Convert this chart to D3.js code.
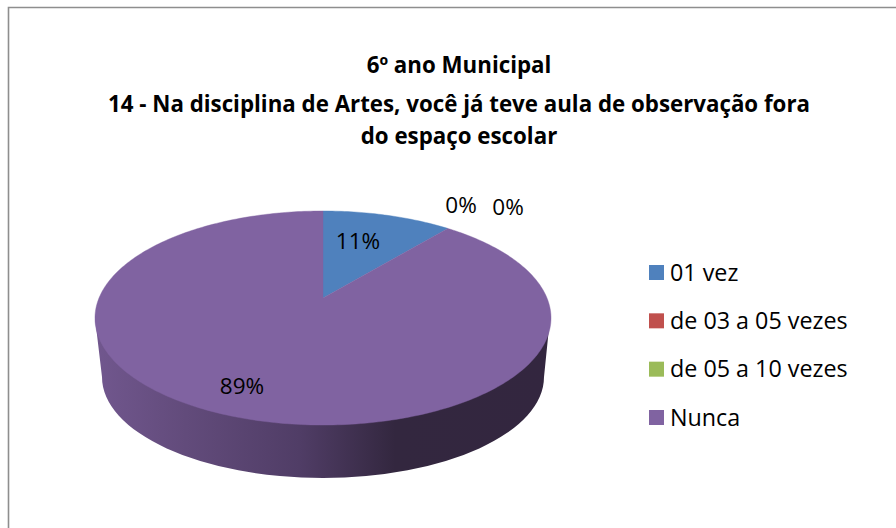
<!DOCTYPE html>
<html><head><meta charset="utf-8">
<script src="https://cdn.jsdelivr.net/npm/d3@7"></script>
<style>html,body{margin:0;padding:0;background:#fff}svg{display:block}text{font-family:"Open Sans","Noto Sans",sans-serif;fill:#000}</style>
</head><body><svg id="c" width="896" height="528"></svg>
<script>
const titleLines = ["6º ano Municipal","14 - Na disciplina de Artes, você já teve aula de observação fora","do espaço escolar"];
const categories = ["01 vez","de 03 a 05 vezes","de 05 a 10 vezes","Nunca"];
const values = [11,0,0,89];
const labels = ["11%","0%","0%","89%"];
const colors = ["#4f81bd","#c0504d","#9bbb59","#8063a1"];

const svg = d3.select("#c");
svg.append("rect").attr("width",896).attr("height",528).attr("fill","#fff");
svg.append("path").attr("d","M896 7.5H8.5V528").attr("fill","none").attr("stroke","#8e8e8e").attr("stroke-width",1.6);

// title
const titleY=[72.5,112,144];
titleLines.forEach((t,i)=>svg.append("text").attr("x",459).attr("y",titleY[i]).attr("text-anchor","middle")
  .attr("font-size",22.3).attr("font-weight",700).text(t));

// perspective disc: unit circle -> screen
const cx=323, apexY=298, k=0.1869, c=224, a=-47.6;
const project=(th)=>{const u=Math.sin(th),v=Math.cos(th),d=1+k*v;return [cx+c*u/d,(a*v+apexY)/d];};
const pie=d3.pie().sort(null).value(d=>d);
const arcs=pie(values);

// side wall
const defs=svg.append("defs");
const g=defs.append("linearGradient").attr("id","wall").attr("gradientUnits","userSpaceOnUse")
 .attr("x1",95).attr("x2",550).attr("y1",0).attr("y2",0);
[[0,"#71578e"],[0.2,"#624b7b"],[0.45,"#503d66"],[0.66,"#33273f"],[1,"#33263f"]].forEach(s=>g.append("stop").attr("offset",s[0]).attr("stop-color",s[1]));
const low={cx:323,cy:377,rx:221,ry:101};
svg.append("path").attr("fill","url(#wall)")
 .attr("d",`M95 318L${low.cx-low.rx} ${low.cy}A${low.rx} ${low.ry} 0 0 0 ${low.cx+low.rx} ${low.cy}L550 318Z`);

// slices on top face
const line=d3.line();
arcs.forEach((d,i)=>{
  if(d.endAngle-d.startAngle<=0) return;
  const n=Math.max(2,Math.ceil((d.endAngle-d.startAngle)*60));
  const pts=[[cx,apexY]];
  d3.range(n+1).forEach(j=>pts.push(project(d.startAngle+(d.endAngle-d.startAngle)*j/n)));
  svg.append("path").attr("d",line(pts)+"Z").attr("fill",colors[i]).attr("stroke",colors[i]).attr("stroke-width",0.4);
});

// data labels
const labelPos=[[358,249],[461,213],[508,215],[242,394]];
labels.forEach((t,i)=>svg.append("text").attr("x",labelPos[i][0]).attr("y",labelPos[i][1]).attr("text-anchor","middle").attr("font-size",22.5).text(t));

// legend
const ly=d3.scalePoint().domain(categories).range([272.5,417.5]);
categories.forEach((t,i)=>{
  svg.append("rect").attr("x",649).attr("y",ly(t)-7.5).attr("width",15).attr("height",15).attr("fill",colors[i]);
  svg.append("text").attr("x",670).attr("y",ly(t)+8).attr("font-size",23.3).text(t);
});
</script></body></html>
